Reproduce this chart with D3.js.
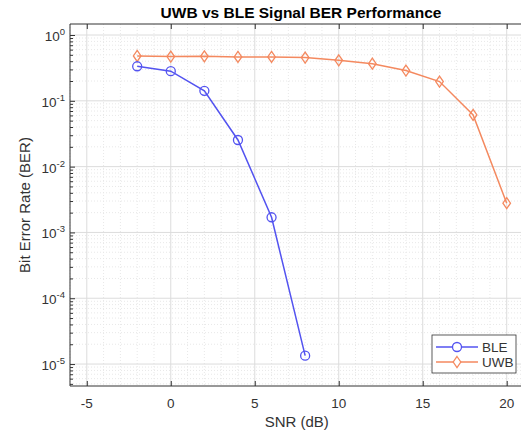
<html>
  <head>
    <title>UWB vs BLE Signal BER Performance</title>
    <style>
      body { margin: 0; background: #fff; }
      text { font-family: "Liberation Sans", Arial, Helvetica, sans-serif; }
    </style>
  </head>
  <body>
    <script src="https://d3js.org/d3.v7.min.js"></script>
    <script>
      (function() {
        var WIDTH = 521, HEIGHT = 431;

        // data
        var bleSnr = [-2, 0, 2, 4, 6, 8];
        var bleBer = [0.335, 0.282, 0.142, 0.0254, 0.0017, 0.0000134];
        var uwbSnr = [-2, 0, 2, 4, 6, 8, 10, 12, 14, 16, 18, 20];
        var uwbBer = [0.48, 0.47, 0.475, 0.465, 0.464, 0.454, 0.413, 0.367, 0.288, 0.196, 0.061, 0.00278];
        var xTicks = [-5, 0, 5, 10, 15, 20];
        var yExponents = [0, -1, -2, -3, -4, -5];
        var xDomain = [-6, 21];
        var yDomain = [4.64e-6, 1.47];

        // plot box (right edge runs off the window, as in the picture)
        var LEFT = 70, TOP = 24, BOTTOM = 386, RIGHT = 523.5;

        var colors = {
          BLE: '#5353f0',
          UWB: '#f4895f',
          AXIS: '#333333',
          GRID: '#dcdcdc',
          MINOR: '#e8e8e8',
          TEXT: '#333333'
        };

        var svg = d3.select('body').append('svg')
          .attr('width', WIDTH)
          .attr('height', HEIGHT);

        var x = d3.scaleLinear().domain(xDomain).range([LEFT, RIGHT]);
        var y = d3.scaleLog().domain(yDomain).range([BOTTOM, TOP]);

        // minor grid
        var xMinor = d3.range(xDomain[0], xDomain[1] + 1, 1).filter(function(v) { return v % 5 !== 0; });
        var yMinor = [];
        for (var e = -6; e <= 0; e++) {
          for (var m = 2; m <= 9; m++) {
            var v = m * Math.pow(10, e);
            if (v > yDomain[0] && v < yDomain[1]) yMinor.push(v);
          }
        }
        var grid = svg.append('g');
        grid.selectAll('.xminor').data(xMinor).enter().append('line')
          .attr('x1', function(d) { return x(d); }).attr('x2', function(d) { return x(d); })
          .attr('y1', TOP).attr('y2', BOTTOM)
          .attr('stroke', colors.MINOR).attr('stroke-dasharray', '1,2');
        grid.selectAll('.yminor').data(yMinor).enter().append('line')
          .attr('x1', LEFT).attr('x2', RIGHT)
          .attr('y1', function(d) { return y(d); }).attr('y2', function(d) { return y(d); })
          .attr('stroke', colors.MINOR).attr('stroke-dasharray', '1,2');

        // major grid
        grid.selectAll('.xmajor').data(xTicks).enter().append('line')
          .attr('x1', function(d) { return x(d); }).attr('x2', function(d) { return x(d); })
          .attr('y1', TOP).attr('y2', BOTTOM)
          .attr('stroke', colors.GRID);
        grid.selectAll('.ymajor').data(yExponents).enter().append('line')
          .attr('x1', LEFT).attr('x2', RIGHT)
          .attr('y1', function(d) { return y(Math.pow(10, d)); })
          .attr('y2', function(d) { return y(Math.pow(10, d)); })
          .attr('stroke', colors.GRID);

        // axes with inward ticks
        var xAxisBottom = d3.axisBottom(x).tickValues(xTicks).tickSize(-5).tickFormat('');
        var xAxisTop = d3.axisTop(x).tickValues(xTicks).tickSize(-5).tickFormat('');
        var yAxis = d3.axisLeft(y).tickValues(yExponents.map(function(d) { return Math.pow(10, d); }))
          .tickSize(-5).tickFormat('');
        var yAxisMinor = d3.axisLeft(y).tickValues(yMinor).tickSize(-3).tickFormat('');

        function styleAxis(g) {
          g.selectAll('path').attr('stroke', colors.AXIS);
          g.selectAll('line').attr('stroke', colors.AXIS);
        }
        svg.append('g').attr('transform', 'translate(0,' + BOTTOM + ')').call(xAxisBottom)
          .call(styleAxis).select('.domain').attr('d', 'M' + LEFT + ',0H' + RIGHT);
        svg.append('g').attr('transform', 'translate(0,' + TOP + ')').call(xAxisTop)
          .call(styleAxis).select('.domain').attr('d', 'M' + LEFT + ',0H' + RIGHT);
        svg.append('g').attr('transform', 'translate(' + LEFT + ',0)').call(yAxis)
          .call(styleAxis).select('.domain').attr('d', 'M0,' + TOP + 'V' + BOTTOM);
        svg.append('g').attr('transform', 'translate(' + LEFT + ',0)').call(yAxisMinor)
          .call(styleAxis).select('.domain').remove();

        // tick labels
        svg.append('g').selectAll('text').data(xTicks).enter().append('text')
          .attr('x', function(d) { return x(d); })
          .attr('y', BOTTOM + 22)
          .attr('text-anchor', 'middle')
          .attr('font-size', '13.5px')
          .attr('fill', colors.TEXT)
          .text(function(d) { return d; });

        var yLabels = svg.append('g').selectAll('text').data(yExponents).enter().append('text')
          .attr('x', LEFT - 5)
          .attr('y', function(d) { return y(Math.pow(10, d)) + 6; })
          .attr('text-anchor', 'end')
          .attr('font-size', '13.5px')
          .attr('fill', colors.TEXT);
        yLabels.append('tspan').text('10');
        yLabels.append('tspan')
          .attr('dy', '-6')
          .attr('font-size', '9.5px')
          .text(function(d) { return d; });

        // axis titles
        svg.append('text')
          .attr('x', (LEFT + RIGHT) / 2)
          .attr('y', 427)
          .attr('text-anchor', 'middle')
          .attr('font-size', '15px')
          .attr('fill', colors.TEXT)
          .text('SNR (dB)');
        svg.append('text')
          .attr('transform', 'translate(30,' + ((TOP + BOTTOM) / 2) + ') rotate(-90)')
          .attr('text-anchor', 'middle')
          .attr('font-size', '15px')
          .attr('fill', colors.TEXT)
          .text('Bit Error Rate (BER)');
        svg.append('text')
          .attr('x', 301)
          .attr('y', 18)
          .attr('text-anchor', 'middle')
          .attr('font-size', '15.5px')
          .attr('font-weight', 'bold')
          .attr('fill', '#000')
          .text('UWB vs BLE Signal BER Performance');

        // series
        var line = d3.line()
          .x(function(d) { return x(d[0]); })
          .y(function(d) { return y(d[1]); });
        var diamond = 'M0,-5.5L3.8,0L0,5.5L-3.8,0Z';

        var ble = d3.zip(bleSnr, bleBer);
        var uwb = d3.zip(uwbSnr, uwbBer);

        svg.append('path').datum(uwb)
          .attr('d', line).attr('fill', 'none')
          .attr('stroke', colors.UWB).attr('stroke-width', 1.5);
        svg.append('g').selectAll('path').data(uwb).enter().append('path')
          .attr('d', diamond)
          .attr('transform', function(d) { return 'translate(' + x(d[0]) + ',' + y(d[1]) + ')'; })
          .attr('fill', 'none').attr('stroke', colors.UWB).attr('stroke-width', 1.3);

        svg.append('path').datum(ble)
          .attr('d', line).attr('fill', 'none')
          .attr('stroke', colors.BLE).attr('stroke-width', 1.5);
        svg.append('g').selectAll('circle').data(ble).enter().append('circle')
          .attr('cx', function(d) { return x(d[0]); })
          .attr('cy', function(d) { return y(d[1]); })
          .attr('r', 4.5)
          .attr('fill', 'none').attr('stroke', colors.BLE).attr('stroke-width', 1.3);

        // legend
        var legend = svg.append('g').attr('transform', 'translate(432,335)');
        legend.append('rect')
          .attr('width', 84).attr('height', 38)
          .attr('fill', '#fff').attr('stroke', colors.AXIS).attr('stroke-width', 0.8);
        var items = [
          { name: 'BLE', color: colors.BLE, shape: 'circle' },
          { name: 'UWB', color: colors.UWB, shape: 'diamond' }
        ];
        items.forEach(function(item, i) {
          var row = legend.append('g').attr('transform', 'translate(0,' + (12 + i * 15) + ')');
          row.append('line')
            .attr('x1', 4).attr('x2', 46)
            .attr('stroke', item.color).attr('stroke-width', 1.5);
          if (item.shape === 'circle') {
            row.append('circle').attr('cx', 25).attr('r', 4.5)
              .attr('fill', '#fff').attr('stroke', item.color).attr('stroke-width', 1.3);
          } else {
            row.append('path').attr('d', diamond).attr('transform', 'translate(25,0)')
              .attr('fill', '#fff').attr('stroke', item.color).attr('stroke-width', 1.3);
          }
          row.append('text')
            .attr('x', 50).attr('y', 5)
            .attr('font-size', '13.5px')
            .attr('fill', colors.TEXT)
            .text(item.name);
        });
      })();
    </script>
  </body>
</html>
